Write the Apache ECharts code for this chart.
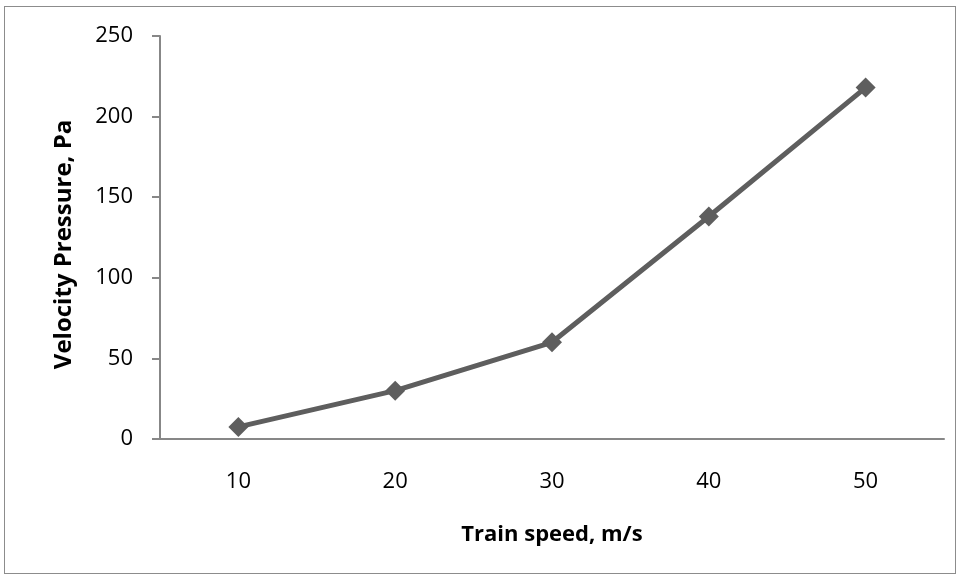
<!DOCTYPE html>
<html>
<head>
<meta charset="utf-8">
<script src="https://cdn.jsdelivr.net/npm/echarts@6/dist/echarts.min.js"></script>
<style>
    html, body { margin: 0; padding: 0; background: #fff; }
    #frame { position: absolute; left: 4px; top: 6px; width: 952px; height: 568px; border: 1px solid #8c8c8c; box-sizing: border-box; }
    #chart { width: 961px; height: 579px; position: absolute; left: 0; top: 0; }
</style>
</head>
<body>
<div id="frame"></div>
<div id="chart"></div>
<script>
const speeds = ['10', '20', '30', '40', '50'];
const pressure = [7.5, 30, 60, 138, 218];

const font = '"Open Sans", Lato, sans-serif';
const axisColor = '#878787';

const chart = echarts.init(document.getElementById('chart'));
chart.setOption({
    animation: false,
    grid: {
        left: 160,
        right: 17,
        top: 36,
        bottom: 140
    },
    xAxis: {
        type: 'category',
        data: speeds,
        name: 'Train speed, m/s',
        nameLocation: 'middle',
        nameGap: 85,
        nameTextStyle: {
            fontFamily: font,
            fontSize: 22,
            fontWeight: 'bold',
            color: '#000'
        },
        axisLine: {
            lineStyle: { color: axisColor, width: 2 }
        },
        axisTick: { show: false },
        axisLabel: {
            margin: 32,
            fontFamily: font,
            fontSize: 22,
            color: '#000'
        }
    },
    yAxis: {
        type: 'value',
        min: 0,
        max: 250,
        interval: 50,
        name: 'Velocity Pressure, Pa',
        nameLocation: 'middle',
        nameGap: 84,
        nameTextStyle: {
            fontFamily: font,
            fontSize: 24,
            fontWeight: 'bold',
            color: '#000',
            padding: [0, 14, 0, 0]
        },
        axisLine: {
            show: true,
            lineStyle: { color: axisColor, width: 2 }
        },
        axisTick: {
            show: true,
            length: 8,
            lineStyle: { color: axisColor, width: 2 }
        },
        splitLine: { show: false },
        axisLabel: {
            margin: 27,
            fontFamily: font,
            fontSize: 22,
            color: '#000'
        }
    },
    series: [
        {
            type: 'line',
            data: pressure,
            symbol: 'diamond',
            symbolSize: 20,
            lineStyle: { color: '#5e5e5e', width: 5 },
            itemStyle: { color: '#5e5e5e' }
        }
    ]
});
</script>
</body>
</html>
